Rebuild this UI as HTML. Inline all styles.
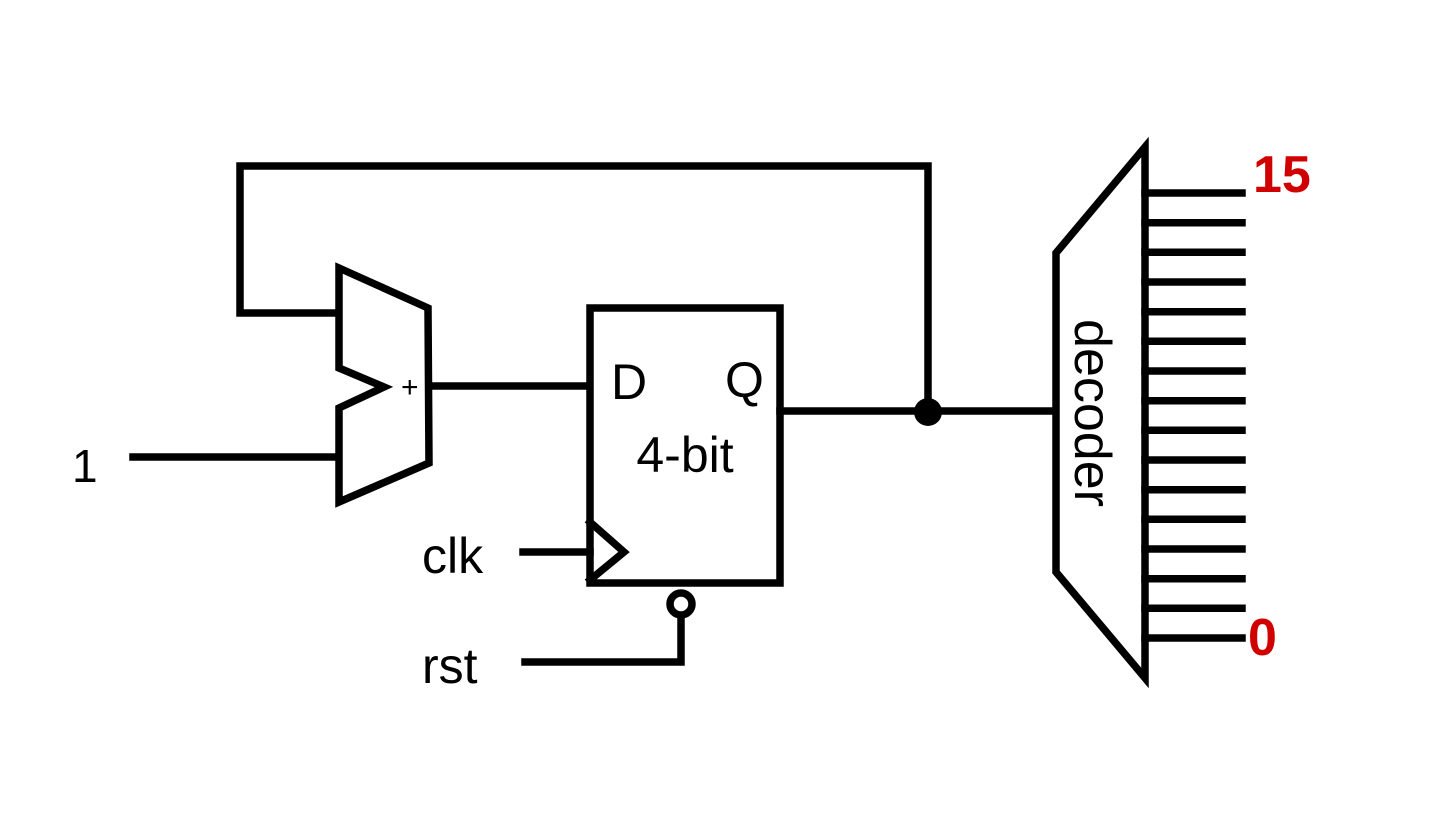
<!DOCTYPE html>
<html><head><style>body{margin:0;background:#fff}svg{display:block}</style></head>
<body>
<svg width="1440" height="819" viewBox="0 0 1440 819" xmlns="http://www.w3.org/2000/svg">
<g stroke="#000" stroke-width="7.5" fill="none" stroke-linejoin="miter" stroke-linecap="square">
<polyline points="335,313 240,313 240,166 928,166 928,410"/>
<polygon points="339,268 428,308 429,463 339,502 339,408 384,387 339,368" stroke-linecap="round"/>
<line x1="430" y1="386" x2="588" y2="386"/>
<line x1="133" y1="457" x2="335" y2="457"/>
<rect x="590" y="308" width="190" height="275"/>
<polyline points="590,522 624,552 590,580"/>
<line x1="523" y1="552" x2="590" y2="552"/>
<circle cx="681" cy="604" r="11"/>
<polyline points="681,616 681,662 525,662"/>
<line x1="780" y1="411" x2="1055" y2="411"/>
<polygon points="1145,147 1145,678 1056,572 1056,253"/>
<g>
<line x1="1145" y1="193" x2="1242" y2="193"/><line x1="1145" y1="222.7" x2="1242" y2="222.7"/>
<line x1="1145" y1="252.3" x2="1242" y2="252.3"/><line x1="1145" y1="282" x2="1242" y2="282"/>
<line x1="1145" y1="311.7" x2="1242" y2="311.7"/><line x1="1145" y1="341.3" x2="1242" y2="341.3"/>
<line x1="1145" y1="371" x2="1242" y2="371"/><line x1="1145" y1="400.7" x2="1242" y2="400.7"/>
<line x1="1145" y1="430.3" x2="1242" y2="430.3"/><line x1="1145" y1="460" x2="1242" y2="460"/>
<line x1="1145" y1="489.7" x2="1242" y2="489.7"/><line x1="1145" y1="519.3" x2="1242" y2="519.3"/>
<line x1="1145" y1="549" x2="1242" y2="549"/><line x1="1145" y1="578.7" x2="1242" y2="578.7"/>
<line x1="1145" y1="608.3" x2="1242" y2="608.3"/><line x1="1145" y1="638" x2="1242" y2="638"/>
</g>
</g>
<circle cx="928" cy="412" r="14" fill="#000"/>
<g font-family="Liberation Sans, sans-serif" fill="#000">
<text x="72" y="482" font-size="46">1</text>
<text x="401" y="397" font-size="30">+</text>
<text x="611" y="399" font-size="50">D</text>
<text x="725" y="397" font-size="50">Q</text>
<text x="685" y="472" font-size="50" text-anchor="middle">4-bit</text>
<text x="422" y="573" font-size="50">clk</text>
<text x="422" y="683" font-size="50">rst</text>
<text transform="translate(1075,413) rotate(90)" font-size="52" text-anchor="middle">decoder</text>
</g>
<g fill="#d00000" font-family="Liberation Sans, sans-serif" font-weight="bold">
<text x="1253" y="192" font-size="52">15</text>
<text x="1248" y="655" font-size="52">0</text>
</g>
</svg>
</body></html>
